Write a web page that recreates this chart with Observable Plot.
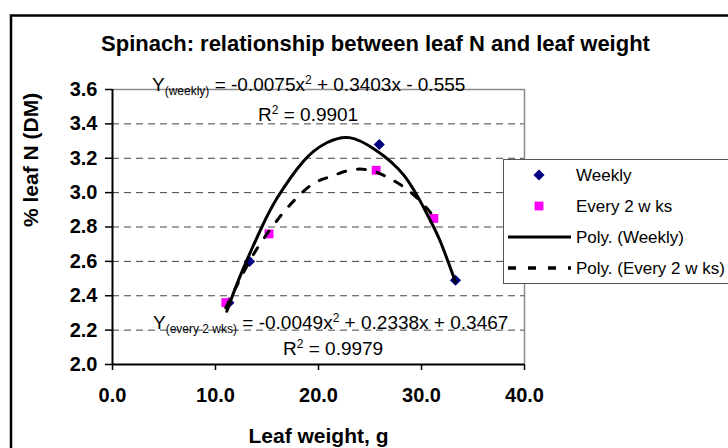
<!DOCTYPE html>
<html>
<head>
<meta charset="utf-8">
<script src="https://cdn.jsdelivr.net/npm/d3@7"></script>
<script src="https://cdn.jsdelivr.net/npm/@observablehq/plot@0.6"></script>
<style>
html, body { margin: 0; padding: 0; background: #fff; overflow: hidden; }
#chart { position: relative; width: 728px; height: 448px; overflow: hidden; }
</style>
</head>
<body>
<div id="chart"></div>
<script>
// ---- data ----
const weeklyX = [11.3, 13.3, 25.9, 33.3];
const weeklyY = [2.36, 2.60, 3.28, 2.49];
const every2X = [11.0, 15.2, 25.6, 31.2];
const every2Y = [2.36, 2.76, 3.13, 2.85];

// trend curves, points
const weeklyFitX = [11.1, 12.5, 14.5, 16.0, 18.5, 20.8, 23.0, 25.5, 28.3, 30.5, 31.8, 33.3];
const weeklyFitY = [2.31, 2.53, 2.80, 2.97, 3.18, 3.29, 3.32, 3.25, 3.10, 2.88, 2.72, 2.48];
const every2FitX = [11.0, 12.5, 14.2, 16.0, 17.1, 19.2, 21.0, 23.0, 25.0, 27.0, 29.0, 30.5, 31.2];
const every2FitY = [2.33, 2.51, 2.69, 2.84, 2.92, 3.04, 3.09, 3.13, 3.13, 3.08, 3.00, 2.91, 2.86];

const xTicks = [0, 10, 20, 30, 40];
const yTicks = [2.0, 2.2, 2.4, 2.6, 2.8, 3.0, 3.2, 3.4, 3.6];
const gridY = [2.2, 2.4, 2.6, 2.8, 3.0, 3.2, 3.4];

const titleText = "Spinach: relationship between leaf N and leaf weight";
const xLabel = "Leaf weight, g";
const yLabel = "% leaf N (DM)";
const legendLabels = ["Weekly", "Every 2 w ks", "Poly. (Weekly)", "Poly. (Every 2 w ks)"];
const eqWeekly = ["Y", "(weekly)", " = -0.0075x", "2", " + 0.3403x - 0.555"];
const r2Weekly = ["R", "2", " = 0.9901"];
const eqEvery2 = ["Y", "(every 2 wks)", " = -0.0049x", "2", " + 0.2338x + 0.3467"];
const r2Every2 = ["R", "2", " = 0.9979"];

// ---- tables built from the arrays ----
const weekly = weeklyX.map((x, i) => ({x, y: weeklyY[i]}));
const every2 = every2X.map((x, i) => ({x, y: every2Y[i]}));
const weeklyFit = weeklyFitX.map((x, i) => ({x, y: weeklyFitY[i]}));
const every2Fit = every2FitX.map((x, i) => ({x, y: every2FitY[i]}));

const FONT = "'Liberation Sans', Arial, Helvetica, sans-serif";
const NAVY = "#000080", PINK = "#FF00FF";

const plot = Plot.plot({
  width: 728,
  height: 448,
  marginLeft: 112,
  marginRight: 204,
  marginTop: 89,
  marginBottom: 84,
  style: {fontFamily: FONT, background: "white", color: "black", overflow: "hidden"},
  x: {domain: [0, 40]},
  y: {domain: [2.0, 3.6]},
  marks: [
    Plot.ruleY(gridY, {stroke: "#444", strokeWidth: 1, strokeDasharray: "7,5"}),
    Plot.ruleY([3.6], {stroke: "#8a8a8a", strokeWidth: 1.5}),
    Plot.ruleX([40], {stroke: "#8a8a8a", strokeWidth: 1.5}),
    Plot.axisY({ticks: yTicks, tickFormat: d3.format(".1f"), tickSize: 7, tickPadding: 8,
      fontSize: 20, fontWeight: "bold", strokeWidth: 1.5, label: null}),
    Plot.axisX({ticks: xTicks, tickFormat: d3.format(".1f"), tickSize: 6, tickPadding: 17,
      fontSize: 20, fontWeight: "bold", strokeWidth: 1.5, label: null}),
    Plot.ruleX([0], {stroke: "black", strokeWidth: 2}),
    Plot.ruleY([2.0], {stroke: "black", strokeWidth: 2}),
    Plot.dot(weekly, {x: "x", y: "y", symbol: "diamond2", r: 5, fill: NAVY, stroke: "none"}),
    Plot.dot(every2, {x: "x", y: "y", symbol: "square", r: 5, fill: PINK, stroke: "none"}),
    Plot.line(weeklyFit, {x: "x", y: "y", stroke: "black", strokeWidth: 3, curve: "natural"}),
    Plot.line(every2Fit, {x: "x", y: "y", stroke: "black", strokeWidth: 3, strokeDasharray: "8,12", curve: "natural"}),
    Plot.text([yLabel], {frameAnchor: "left", dx: -81, rotate: -90, fontSize: 21, fontWeight: "bold", lineAnchor: "middle"}),
    Plot.text([xLabel], {frameAnchor: "bottom", dy: 72, fontSize: 21, fontWeight: "bold", lineAnchor: "middle"}),
    Plot.text([titleText], {frameAnchor: "top", dx: 57, dy: -46, fontSize: 22, fontWeight: "bold", lineAnchor: "middle"})
  ]
});

document.getElementById("chart").appendChild(plot);
const svg = d3.select(plot);

// regression equations (annotations)
function richText(x, y, parts, kinds, size) {
  const t = svg.append("text")
    .attr("x", x).attr("y", y)
    .attr("text-anchor", "start")
    .attr("font-family", FONT).attr("font-size", size)
    .attr("fill", "black").style("white-space", "pre");
  let shift = 0;
  parts.forEach((p, i) => {
    const k = kinds[i];
    const target = k === "sub" ? 4 : k === "sup" ? -7 : 0;
    t.append("tspan")
      .attr("font-size", k === "main" ? size : 12)
      .attr("dy", target - shift)
      .text(p);
    shift = target;
  });
}
const eqKinds = ["main", "sub", "main", "sup", "main"];
const rKinds = ["main", "sup", "main"];
richText(152, 91, eqWeekly, eqKinds, 19);
richText(258, 121, r2Weekly, rKinds, 19);
richText(153, 329, eqEvery2, eqKinds, 19);
richText(283, 355, r2Every2, rKinds, 19);

// legend
const lg = svg.append("g");
lg.append("rect").attr("x", 503.5).attr("y", 159.5).attr("width", 260).attr("height", 124)
  .attr("fill", "white").attr("stroke", "#555").attr("stroke-width", 1);
const rows = [175, 206, 237, 268];
lg.append("path").attr("transform", `translate(539,${rows[0]})`)
  .attr("d", d3.symbol(d3.symbolDiamond2, Math.PI * 25)()).attr("fill", NAVY);
lg.append("path").attr("transform", `translate(539,${rows[1]})`)
  .attr("d", d3.symbol(d3.symbolSquare, Math.PI * 25)()).attr("fill", PINK);
lg.append("line").attr("x1", 508).attr("x2", 571).attr("y1", rows[2]).attr("y2", rows[2])
  .attr("stroke", "black").attr("stroke-width", 3);
lg.append("line").attr("x1", 508).attr("x2", 571).attr("y1", rows[3]).attr("y2", rows[3])
  .attr("stroke", "black").attr("stroke-width", 3.5).attr("stroke-dasharray", "8,12");
legendLabels.forEach((s, i) => {
  lg.append("text").attr("x", 576).attr("y", rows[i] + 5.5)
    .attr("text-anchor", "start")
    .attr("font-family", FONT).attr("font-size", 17).attr("fill", "black").text(s);
});

// chart-area frame
svg.append("rect").attr("x", 11).attr("y", 15.5).attr("width", 800).attr("height", 600)
  .attr("fill", "none").attr("stroke", "black").attr("stroke-width", 2.5);
</script>
</body>
</html>
